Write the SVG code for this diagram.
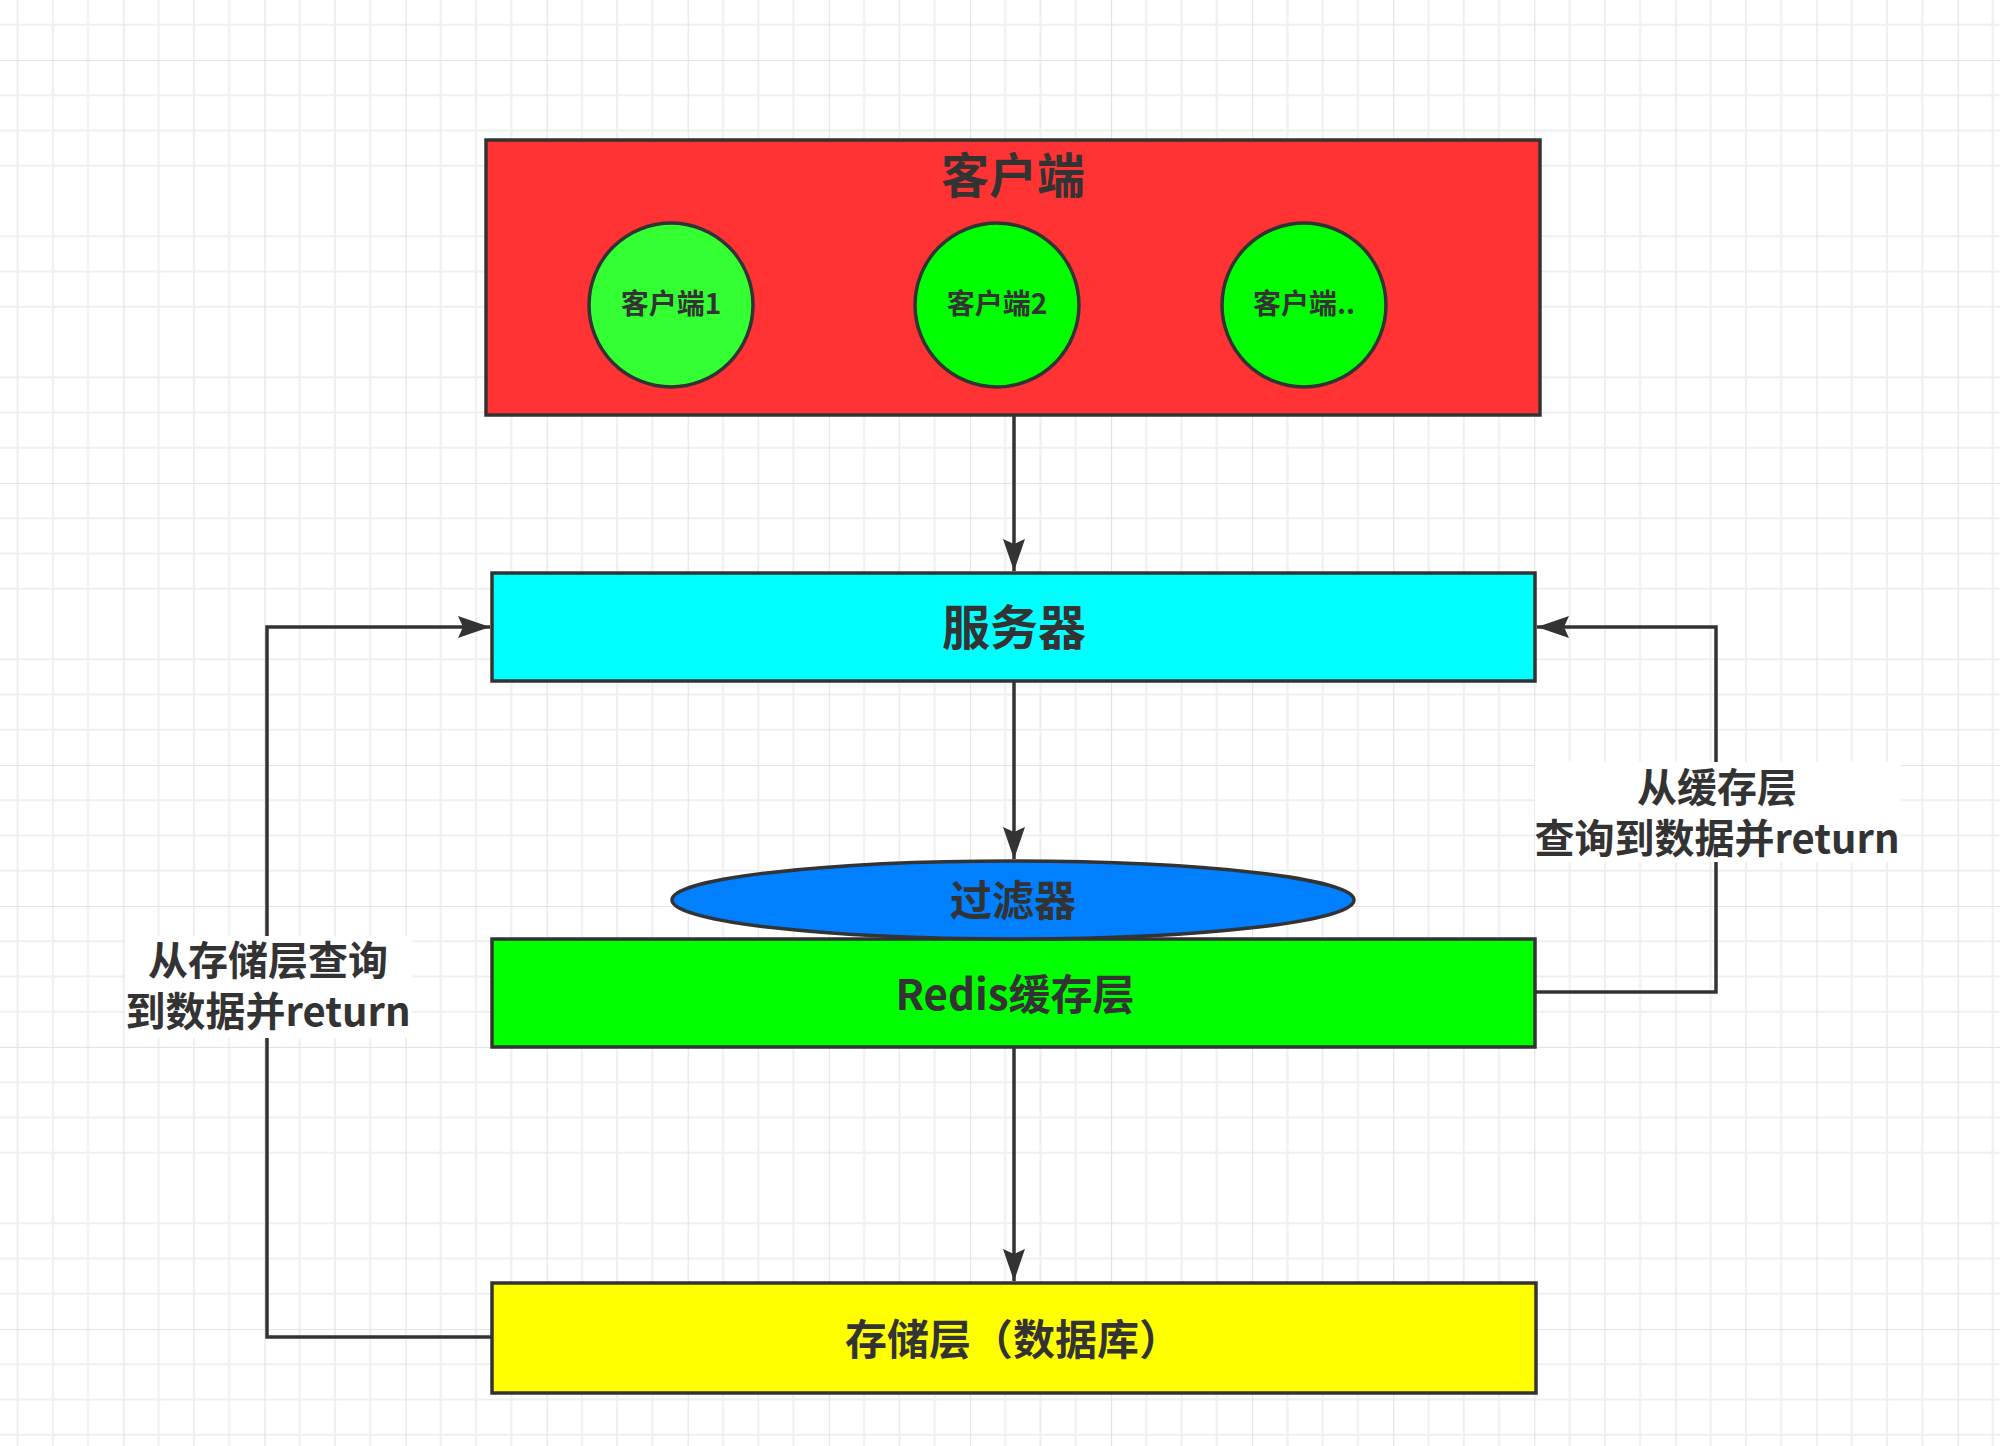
<svg xmlns="http://www.w3.org/2000/svg" width="2000" height="1446" viewBox="0 0 2000 1446">
<defs>
<pattern id="grid" patternUnits="userSpaceOnUse" x="123.3" y="60" width="141.1" height="141">
<rect width="141.1" height="141" fill="#ffffff"/>
<path d="M35.3,0V141M70.6,0V141M105.8,0V141M0,35.25H141.1M0,70.5H141.1M0,105.75H141.1" stroke="#efefef" stroke-width="2" fill="none"/>
<path d="M0,0V141M0,0H141.1" stroke="#e3e3e3" stroke-width="2.2" fill="none"/>
</pattern>
<marker id="arrow" markerUnits="userSpaceOnUse" markerWidth="34" markerHeight="26" refX="32" refY="11" orient="auto">
<path d="M0,0 L32,11 L0,22 L5,11 Z" fill="#333333"/>
</marker>
</defs>
<style>
.box{stroke:#333333;stroke-width:3.5}
.t{font-family:"Noto Sans CJK SC","Microsoft YaHei",sans-serif;font-weight:bold;fill:#333333;text-anchor:middle;dominant-baseline:central}
.edge{fill:none;stroke:#333333;stroke-width:3.5}
.lbl{fill:#ffffff}
</style>
<rect x="0" y="0" width="2000" height="1446" fill="url(#grid)"/>

<g id="connectors">
<path class="edge" d="M1014,415 V571" marker-end="url(#arrow)"/>
<path class="edge" d="M1014,681 V859" marker-end="url(#arrow)"/>
<path class="edge" d="M1014,1047 V1281" marker-end="url(#arrow)"/>
<path class="edge" d="M492,1337 H267 V627 H490" marker-end="url(#arrow)"/>
<path class="edge" d="M1535,992 H1716 V627 H1537" marker-end="url(#arrow)"/>
<g id="label-left">
<rect class="lbl" x="125" y="936" width="287" height="102"/>
<text class="t" x="268" y="958" font-size="40">从存储层查询</text>
<text class="t" x="268" y="1009" font-size="40">到数据并return</text>
</g>
<g id="label-right">
<rect class="lbl" x="1535" y="762" width="366" height="100"/>
<text class="t" x="1717" y="785" font-size="40">从缓存层</text>
<text class="t" x="1717" y="836" font-size="40">查询到数据并return</text>
</g>
</g>

<g id="client">
<rect class="box" x="486" y="140" width="1054" height="275" fill="#ff3333"/>
<text class="t" x="1013" y="172" font-size="48">客户端</text>
</g>
<g id="client1">
<circle class="box" cx="671" cy="305" r="82" fill="#33ff33"/>
<text class="t" x="671" y="302" font-size="28">客户端1</text>
</g>
<g id="client2">
<circle class="box" cx="997" cy="305" r="82" fill="#00ff00"/>
<text class="t" x="997" y="302" font-size="28">客户端2</text>
</g>
<g id="client3">
<circle class="box" cx="1304" cy="305" r="82" fill="#00ff00"/>
<text class="t" x="1304" y="302" font-size="28">客户端..</text>
</g>
<g id="server">
<rect class="box" x="492" y="573" width="1043" height="108" fill="#00ffff"/>
<text class="t" x="1014" y="624" font-size="48">服务器</text>
</g>
<g id="redis">
<rect class="box" x="492" y="939" width="1043" height="108" fill="#00ff00"/>
<text class="t" x="1015" y="991" font-size="42">Redis缓存层</text>
</g>
<g id="filter">
<ellipse class="box" cx="1013" cy="900" rx="341" ry="39" fill="#007fff"/>
<text class="t" x="1013" y="897" font-size="42">过滤器</text>
</g>
<g id="storage">
<rect class="box" x="492" y="1283" width="1044" height="110" fill="#ffff00"/>
<text class="t" x="1013" y="1336" font-size="42">存储层（数据库）</text>
</g>
</svg>
